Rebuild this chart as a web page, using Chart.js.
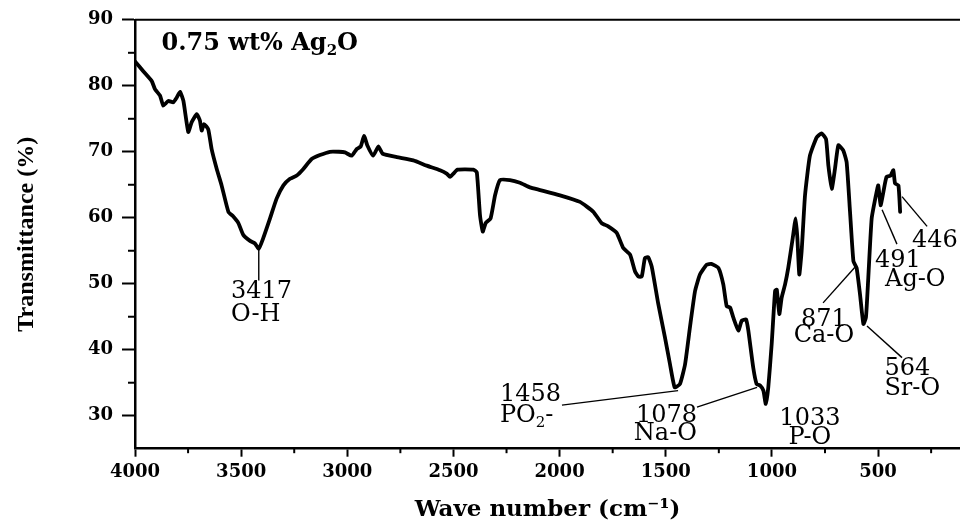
<!DOCTYPE html>
<html>
<head>
<meta charset="utf-8">
<script src="https://cdn.jsdelivr.net/npm/chart.js@4.4.0/dist/chart.umd.min.js"></script>
<style>
html,body{margin:0;padding:0;background:#fff;}
#wrap{width:960px;height:524px;position:relative;}
canvas{display:block;}
</style>
</head>
<body>
<div id="wrap"><canvas id="c" width="960" height="524"></canvas></div>
<script>
// ---- data ----
const wavenumbers = [
 4000,3961,3921,3906,3882,3867,3843,3820,3804,3788,3772,3749,3733,3709,3694,3686,3675,3655,3639,3615,
 3592,3560,3537,3513,3490,3458,3435,3417,3396,3364,3333,3301,3270,3238,3207,3168,3129,3082,3040,3011,
 2979,2956,2937,2921,2906,2878,2854,2833,2767,2689,2626,2563,2532,2516,2500,2481,2406,2390,2375,2362,
 2348,2325,2304,2281,2234,2187,2140,2092,1998,1904,1841,1802,1771,1731,1700,1668,1645,1629,1613,1598,
 1582,1566,1535,1504,1480,1458,1433,1409,1386,1362,1339,1307,1285,1252,1229,1213,1197,1182,1158,1142,
 1122,1111,1088,1072,1056,1040,1029,1017,1001,985,977,965,954,938,923,902,888,880,871,860,
 844,821,789,766,745,734,718,703,687,664,648,632,616,601,585,569,557,546,530,510,
 499,488,475,460,441,428,420,404,396
];
const transmittance = [
 83.7,82.2,80.7,79.5,78.5,77.0,77.7,77.5,78.2,79.1,77.7,73.0,74.5,75.7,74.7,73.2,74.2,73.4,70.4,67.4,
 64.9,60.9,60.2,59.2,57.4,56.5,56.1,55.3,56.9,59.9,62.9,64.9,65.9,66.4,67.4,68.9,69.5,70.0,70.0,69.9,
 69.4,70.4,70.8,72.4,71.0,69.4,70.8,69.7,69.2,68.7,67.9,67.2,66.7,66.2,66.7,67.3,67.3,66.9,60.4,57.9,
 59.2,59.9,63.4,65.7,65.7,65.3,64.6,64.2,63.4,62.4,60.9,59.2,58.7,57.7,55.4,54.4,51.9,51.1,51.1,53.9,
 54.0,52.6,46.9,41.9,37.8,34.3,34.8,37.8,43.4,48.9,51.4,52.9,53.0,52.4,49.9,46.6,46.4,44.9,42.9,44.4,
 44.6,42.9,37.3,34.8,34.6,33.8,31.8,34.3,40.9,48.9,49.1,45.4,47.9,49.9,52.4,56.9,59.9,56.9,51.4,54.9,
 63.4,69.4,72.2,72.8,71.9,67.9,64.4,67.4,71.0,70.2,68.4,60.9,53.4,52.4,48.4,43.9,44.9,50.9,59.9,63.4,
 64.9,61.9,63.9,66.2,66.4,67.2,65.2,64.9,60.9
];
const xTickValues = [4000,3500,3000,2500,2000,1500,1000,500];
const xMinorValues = [3750,3250,2750,2250,1750,1250,750,250];
const yTickValues = [30,40,50,60,70,80,90];
const yMinorValues = [35,45,55,65,75,85];
const peakNumbers = ['3417','1458','1078','1033','871','564','491','446'];
const peakGroups  = [[['O-H']],[['PO'],['2','sub'],['-']],[['Na-O']],[['P-O']],[['Ca-O']],[['Sr-O']],[['Ag-O']],null];
const sampleLabel = [['0.75 wt% Ag'],['2','sub'],['O']];
const xTitle = 'Wave number (cm⁻¹)';
const yTitle = 'Transmittance (%)';

// ---- label placement (in data units: wavenumber, transmittance) ----
const peakLabelLayout = [
 {align:'left',   num:[3548,47.8], grp:[3548,44.4], lead:[[3417,55.3],[3417,50.5]]},
 {align:'left',   num:[2281,32.3], grp:[2281,29.0], lead:[[1989,31.6],[1442,33.8]]},
 {align:'right',  num:[1353,29.0], grp:[1353,26.3], lead:[[1353,31.3],[1070,34.3]]},
 {align:'center', num:[821,28.6],  grp:[821,25.7],  lead:null},
 {align:'center', num:[755,43.6],  grp:[755,41.1],  lead:[[759,47.1],[609,52.5]]},
 {align:'left',   num:[470,36.1],  grp:[470,33.1],  lead:[[552,43.6],[387,38.8]]},
 {align:'left',   num:[514,52.6],  grp:[467,49.6],  lead:[[481,61.2],[411,56.0]]},
 {align:'left',   num:[340,55.6],  grp:null,        lead:[[387,63.2],[269,58.7]]}
];

const ANN_FONT = '24px "DejaVu Serif"';
const ANN_FONT_SUB = '15px "DejaVu Serif"';

function segWidth(ctx, segs, font, subFont){
  let w = 0;
  for (const s of segs){ ctx.font = s[1]==='sub'?subFont:font; w += ctx.measureText(s[0]).width; }
  return w;
}
function drawSegs(ctx, segs, x, y, align, font, subFont, subDrop){
  const w = segWidth(ctx, segs, font, subFont);
  let cx = align==='left'?x:(align==='right'?x-w:x-w/2);
  ctx.textAlign='left'; ctx.textBaseline='alphabetic';
  for (const s of segs){
    const sub = s[1]==='sub';
    ctx.font = sub?subFont:font;
    ctx.fillText(s[0], cx, sub?y+subDrop:y);
    cx += ctx.measureText(s[0]).width;
  }
}

const decorPlugin = {
  id:'decor',
  afterDraw(chart){
    const ctx = chart.ctx, xs = chart.scales.x, ys = chart.scales.y, a = chart.chartArea;
    ctx.save();
    ctx.strokeStyle='#000'; ctx.fillStyle='#000';
    // top frame line
    ctx.lineWidth = 2;
    ctx.beginPath(); ctx.moveTo(a.left, a.top); ctx.lineTo(a.right, a.top); ctx.stroke();
    // minor ticks
    ctx.lineWidth = 2;
    for (const v of xMinorValues){
      const px = xs.getPixelForValue(v);
      if (px < a.left-1 || px > a.right+1) continue;
      ctx.beginPath(); ctx.moveTo(px, a.bottom); ctx.lineTo(px, a.bottom+4.5); ctx.stroke();
    }
    for (const v of yMinorValues){
      const py = ys.getPixelForValue(v);
      ctx.beginPath(); ctx.moveTo(a.left, py); ctx.lineTo(a.left-7, py); ctx.stroke();
    }
    // sample label
    drawSegs(ctx, sampleLabel, xs.getPixelForValue(3875), ys.getPixelForValue(85.4), 'left',
             'bold 24px "DejaVu Serif"', 'bold 15px "DejaVu Serif"', 5);
    // peak labels
    ctx.lineWidth = 1.4;
    peakLabelLayout.forEach((L, i) => {
      if (L.lead){
        ctx.beginPath();
        ctx.moveTo(xs.getPixelForValue(L.lead[0][0]), ys.getPixelForValue(L.lead[0][1]));
        ctx.lineTo(xs.getPixelForValue(L.lead[1][0]), ys.getPixelForValue(L.lead[1][1]));
        ctx.stroke();
      }
      drawSegs(ctx, [[peakNumbers[i]]], xs.getPixelForValue(L.num[0]), ys.getPixelForValue(L.num[1]), L.align, ANN_FONT, ANN_FONT_SUB, 5);
      if (L.grp && peakGroups[i]){
        drawSegs(ctx, peakGroups[i], xs.getPixelForValue(L.grp[0]), ys.getPixelForValue(L.grp[1]), L.align, ANN_FONT, ANN_FONT_SUB, 5);
      }
    });
    ctx.restore();
  }
};

const points = wavenumbers.map((w, i) => ({x: w, y: transmittance[i]}));

new Chart(document.getElementById('c'), {
  type: 'line',
  data: { datasets: [{
    data: points,
    borderColor: '#000',
    borderWidth: 3.8,
    pointRadius: 0,
    tension: 0.15,
    borderJoinStyle: 'round',
    borderCapStyle: 'round',
    fill: false
  }]},
  options: {
    responsive: false,
    animation: false,
    devicePixelRatio: 1,
    layout: { padding: { top: 16.7, right: 0, left: 0, bottom: 0 } },
    plugins: { legend: { display: false }, tooltip: { enabled: false } },
    scales: {
      x: {
        type: 'linear', reverse: true, min: 114, max: 4000,
        afterBuildTicks: s => { s.ticks = xTickValues.map(v => ({value: v})); },
        afterFit: s => { s.height = 75.3; },
        grid: { drawOnChartArea: false, drawTicks: true, tickLength: 8, tickWidth: 2, tickColor: '#000', color: '#000' },
        border: { display: true, color: '#000', width: 2.5 },
        ticks: { color: '#000', autoSkip: false, maxRotation: 0, padding: 5,
                 font: { family: 'DejaVu Serif', weight: 'bold', size: 18 },
                 callback: v => String(v) },
        title: { display: true, text: xTitle, color: '#000',
                 font: { family: 'DejaVu Serif', weight: 'bold', size: 23 },
                 padding: { top: 0, bottom: 0 } }
      },
      y: {
        type: 'linear', min: 25, max: 90,
        afterBuildTicks: s => { s.ticks = yTickValues.map(v => ({value: v})); },
        afterFit: s => { s.width = 135; },
        grid: { drawOnChartArea: false, drawTicks: true, tickLength: 13, tickWidth: 2, tickColor: '#000', color: '#000' },
        border: { display: true, color: '#000', width: 2.5 },
        ticks: { color: '#000', padding: 9,
                 font: { family: 'DejaVu Serif', weight: 'bold', size: 18 },
                 callback: v => String(v) },
        title: { display: true, text: yTitle, color: '#000',
                 font: { family: 'Liberation Serif', weight: 'bold', size: 24 },
                 padding: { top: 12, bottom: 0 } }
      }
    }
  },
  plugins: [decorPlugin]
});
</script>
</body>
</html>
